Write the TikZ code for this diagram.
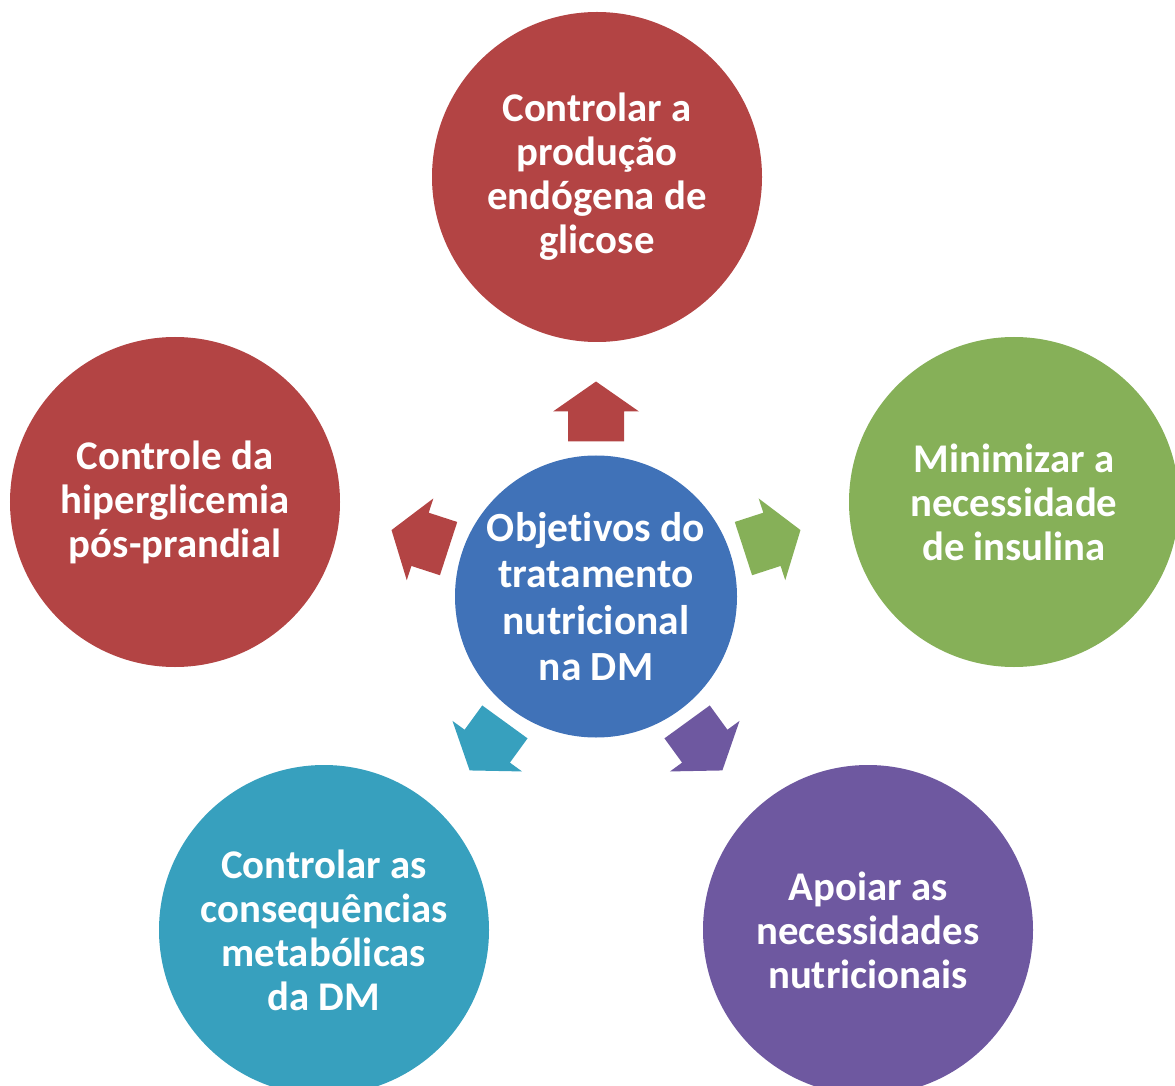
\documentclass[tikz,border=0pt]{standalone}
\usepackage{fontspec}
\setmainfont[Ligatures=NoCommon]{Carlito}
\definecolor{dmred}{RGB}{179,68,68}
\definecolor{dmgreen}{RGB}{134,176,88}
\definecolor{dmblue}{RGB}{64,114,184}
\definecolor{dmteal}{RGB}{55,160,190}
\definecolor{dmpurple}{RGB}{110,88,160}
\tikzset{
  goal/.style={circle,minimum size=3.3cm,inner sep=0pt,text=white,align=center,
    font=\bfseries\fontsize{11.6}{12.5}\selectfont},
  hub/.style={goal,minimum size=2.82cm,fill=dmblue,font=\bfseries\fontsize{11.8}{13.2}\selectfont},
}

\begin{document}
\begin{tikzpicture}
         \useasboundingbox (0,0) rectangle (11.75,-10.86) ;
         \clip (0,0) rectangle (11.75,-10.86) ;
         % centro
         \node[hub] (hub) at (5.96,-5.965) {Objetivos do\\tratamento\\nutricional\\na DM} ;
         % objetivos
         \node[goal,fill=dmred] (prod) at (5.97,-1.77) {Controlar a\\produção\\endógena de\\glicose} ;
         \node[goal,fill=dmred] (hiper) at (1.75,-5.02) {Controle da\\hiperglicemia\\pós-prandial} ;
         \node[goal,fill=dmgreen] (insul) at (10.14,-5.02) {Minimizar a\\necessidade\\de insulina} ;
         \node[goal,fill=dmteal] (meta) at (3.24,-9.30) {Controlar as\\consequências\\metabólicas\\da DM} ;
         \node[goal,fill=dmpurple] (nutr) at (8.68,-9.30) {Apoiar as\\necessidades\\nutricionais} ;
         % setas
         \foreach \ang/\col in {90/dmred,18/dmgreen,162/dmred,234/dmteal,306/dmpurple}
           \fill[\col,shift={(hub.center)},rotate=\ang] (1.55,-0.28) -- (1.85,-0.28) -- (1.85,-0.43)
             -- (2.15,0) -- (1.85,0.43) -- (1.85,0.28) -- (1.55,0.28) -- cycle ;
\end{tikzpicture}
\end{document}
